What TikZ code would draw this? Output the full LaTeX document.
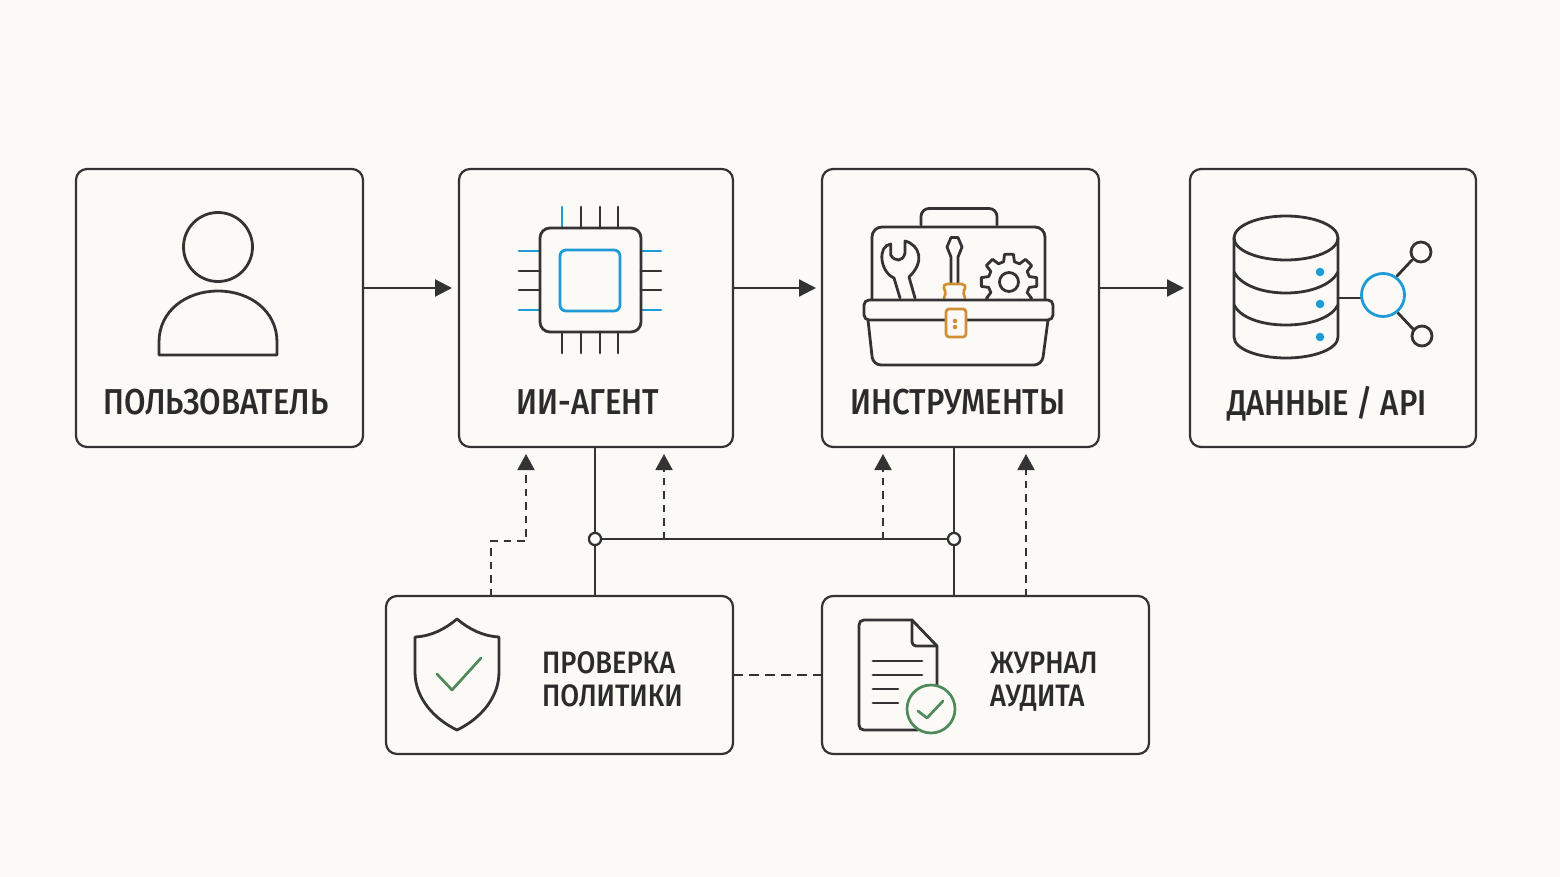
\documentclass[tikz,border=0pt]{standalone}
\usepackage{fontspec}
\setmainfont{Fira Sans}
\newfontfamily\lab[FakeStretch=0.865]{Fira Sans Medium}
\newfontfamily\labsub[FakeStretch=0.88]{Fira Sans Medium}
\usetikzlibrary{arrows.meta,calc}
\definecolor{paper}{HTML}{FCFAF7}
\definecolor{ink}{HTML}{333333}
\definecolor{bluea}{HTML}{1E9BD7}
\definecolor{greena}{HTML}{4F8A5B}
\definecolor{orangea}{HTML}{D08F35}
\tikzset{
  box/.style={draw=ink,line width=2.2pt,rounded corners=11pt,fill=paper,inner sep=0pt,outer sep=0pt},
  icon/.style={draw=ink,line width=2.8pt,line join=round,line cap=round},
  bicon/.style={draw=bluea,line width=2.8pt,line join=round,line cap=round},
  gicon/.style={draw=greena,line width=2.7pt,line join=round,line cap=round},
  oicon/.style={draw=orangea,line width=2.7pt,line join=round,line cap=round},
  flow/.style={draw=ink,line width=2.2pt,-{Triangle[length=17pt,width=17pt]}},
  solidlink/.style={draw=ink,line width=2.2pt},
  dashlink/.style={draw=ink,line width=1.9pt,dash pattern=on 7.5pt off 6pt},
  dasharrow/.style={dashlink,-{Triangle[length=16pt,width=17pt,sep=0pt]}},
  junction/.style={circle,draw=ink,line width=2.2pt,fill=white,minimum size=12pt,inner sep=0pt},
  biglabel/.style={anchor=base,text=ink!85!black,font=\lab\fontsize{36}{36}\selectfont,inner sep=0pt},
  sublabel/.style={anchor=base west,text=ink!85!black,font=\labsub\fontsize{31}{31}\selectfont,inner sep=0pt},
}
\begin{document}
\begin{tikzpicture}[x=1pt,y=-1pt]
\useasboundingbox (0,0) rectangle (1560,877);
\fill[paper] (0,0) rectangle (1560,877);

% boxes
\node[box,minimum width=287pt,minimum height=278pt] (user) at (219.5,308) {};
\node[box,minimum width=274pt,minimum height=278pt] (agent) at (596,308) {};
\node[box,minimum width=277pt,minimum height=278pt] (tools) at (960.5,308) {};
\node[box,minimum width=286pt,minimum height=278pt] (data) at (1333,308) {};
\node[box,minimum width=347pt,minimum height=158pt] (policy) at (559.5,675) {};
\node[box,minimum width=327pt,minimum height=158pt] (audit) at (985.5,675) {};

% connector anchors
\coordinate (a1) at (452,288);
\coordinate (u1) at (363,288);
\coordinate (ag1) at (733,288);
\coordinate (t0) at (816,288);
\coordinate (t1) at (1099,288);
\coordinate (d0) at (1184,288);
\node[junction] (j1) at (595,539) {};
\node[junction] (j2) at (954,539) {};
\coordinate (agb) at (595,447);
\coordinate (pot) at (595,596);
\coordinate (tob) at (954,447);
\coordinate (aut) at (954,596);
\coordinate (p1) at (491,596);
\coordinate (p2) at (491,541);
\coordinate (p3) at (526,541);
\coordinate (p4) at (526,454);
\coordinate (m1) at (664,539);
\coordinate (m2) at (664,454);
\coordinate (m3) at (883,539);
\coordinate (m4) at (883,454);
\coordinate (q1) at (1026,596);
\coordinate (q2) at (1026,454);
\coordinate (pr) at (733,675);
\coordinate (al) at (822,675);

% connectors
\draw[flow] (u1) -- (a1);
\draw[flow] (ag1) -- (t0);
\draw[flow] (t1) -- (d0);
\draw[solidlink] (agb) -- (j1) -- (pot);
\draw[solidlink] (tob) -- (j2) -- (aut);
\draw[solidlink] (j1) -- (j2);
\draw[dasharrow] (p1) -- (p2) -- (p3) -- (p4);
\draw[dasharrow] (m1) -- (m2);
\draw[dasharrow] (m3) -- (m4);
\draw[dasharrow] (q1) -- (q2);
\draw[dashlink,dash pattern=on 9.5pt off 6.5pt] (pr) -- (al);
\node[junction] at (j1) {};
\node[junction] at (j2) {};

% user icon
\draw[icon] (218,247) circle[radius=34.5];
\draw[icon] (159,355) -- (159,342) .. controls (159,311) and (186,291) .. (218,291)
  .. controls (250,291) and (277,311) .. (277,342) -- (277,355) -- cycle;

% chip icon
\foreach \x/\c in {562/bicon,581/icon,600/icon,618/icon}{\draw[\c] (\x,207) -- (\x,228);}
\foreach \x in {562,581,600,618}{\draw[icon] (\x,332) -- (\x,353);}
\foreach \y/\c in {251/bicon,271/icon,290/icon,310/bicon}{
  \draw[\c] (519,\y) -- (540,\y);
  \draw[\c] (641,\y) -- (661,\y);
}
\draw[icon,rounded corners=10pt] (540,228) rectangle (641,332);
\draw[bicon,rounded corners=6pt] (560,250) rectangle (620,311);

% toolbox icon
\draw[icon,rounded corners=8pt] (921,225) -- (921,208.5) -- (997,208.5) -- (997,225);
\draw[icon,rounded corners=10pt] (872,299) -- (872,227) -- (1045,227) -- (1045,299);
\draw[icon] (900,298) -- (894,278) .. controls (880,272) and (877,246) .. (890.7,244)
  -- (890.7,255) .. controls (895,262) and (903,262) .. (905,253) -- (905,241)
  .. controls (920,245) and (925,262) .. (909,277) -- (915,298);
\draw[icon] (951,237.5) -- (958,237.5) -- (962,247) -- (958,257) -- (958,283);
\draw[icon] (951,237.5) -- (947,247) -- (951,257) -- (951,283);
\draw[oicon,rounded corners=2pt] (944,298) -- (946,292) -- (943,287) -- (945,284) -- (964,284) -- (966,287) -- (963,292) -- (965,298);
\begin{scope}
  \clip (970,240) rectangle (1044,298);
  \begin{scope}[shift={(1009,282)}]
    \draw[icon] (-15:21) \foreach \a in {0,45,...,315}{ -- (\a-15:21) -- (\a-9:28) -- (\a+9:28) -- (\a+15:21) } -- cycle;
    \draw[icon] (0,0) circle[radius=9.5];
  \end{scope}
\end{scope}
\draw[icon,rounded corners=5pt] (864,300) rectangle (1053,320);
\draw[icon,rounded corners=8pt] (868,320) -- (873,365) -- (1042,365) -- (1048,320);
\draw[oicon,rounded corners=3pt,fill=paper] (946,309) rectangle (966,337);
\fill[orangea] (955,321) circle[radius=2.3] (955,327) circle[radius=2.3];

% database icon
\draw[icon] (1234,238) arc[x radius=52,y radius=22,start angle=180,end angle=-180];
\draw[icon] (1234,238) -- (1234,337) .. controls (1234,349) and (1258,358) .. (1286,358)
  .. controls (1314,358) and (1338,349) .. (1338,337) -- (1338,238);
\draw[icon] (1234,272) .. controls (1240,284) and (1260,293) .. (1286,293) .. controls (1312,293) and (1332,284) .. (1338,272);
\draw[icon] (1234,305) .. controls (1240,317) and (1260,325) .. (1286,325) .. controls (1312,325) and (1332,317) .. (1338,305);
\fill[bluea] (1320,272) circle[radius=4.3] (1320,304) circle[radius=4.3] (1320,337) circle[radius=4.3];
\draw[icon] (1338,298) -- (1362,298);
\draw[icon] (1397,276) -- (1412,260);
\draw[icon] (1398,313) -- (1413,329);
\draw[bicon] (1383,295) circle[radius=21.5];
\draw[icon] (1421,252) circle[radius=10];
\draw[icon] (1422,336) circle[radius=10];

% shield icon
\draw[icon] (457,619) .. controls (445,629) and (432,636) .. (415,637) -- (415,672)
  .. controls (415,698) and (434,719) .. (457,730)
  .. controls (480,719) and (499,698) .. (499,672) -- (499,637)
  .. controls (482,636) and (469,629) .. (457,619) -- cycle;
\draw[gicon] (437,674) -- (452,690) -- (481,658);

% document icon
\draw[icon] (937,690) -- (937,646) -- (912,620) -- (864,620) .. controls (861,620) and (859,622) .. (859,625)
  -- (859,725) .. controls (859,728) and (861,730) .. (864,730) -- (918,730);
\draw[icon,rounded corners=4pt] (912,620) -- (912,646) -- (937,646);
\draw[icon] (873,661) -- (922,661);
\draw[icon] (873,675) -- (922,675);
\draw[icon] (873,689) -- (898,689);
\draw[icon] (873,703) -- (898,703);
\draw[gicon,fill=paper] (931,709) circle[radius=24];
\draw[gicon] (918,711) -- (927,718) -- (943,701);

% labels
\node[biglabel] (luser) at (216,414) {ПОЛЬЗОВАТЕЛЬ};
\node[biglabel] (lagent) at (588,414) {ИИ-АГЕНТ};
\node[biglabel] (ltools) at (958,414) {ИНСТРУМЕНТЫ};
\node[biglabel] (ldata) at (1327,415) {ДАННЫЕ / API};
\node[sublabel] (lp1) at (542,673.5) {ПРОВЕРКА};
\node[sublabel] (lp2) at (542,706.5) {ПОЛИТИКИ};
\node[sublabel] (la1) at (990,673.5) {ЖУРНАЛ};
\node[sublabel] (la2) at (990,706.5) {АУДИТА};
\end{tikzpicture}
\end{document}
